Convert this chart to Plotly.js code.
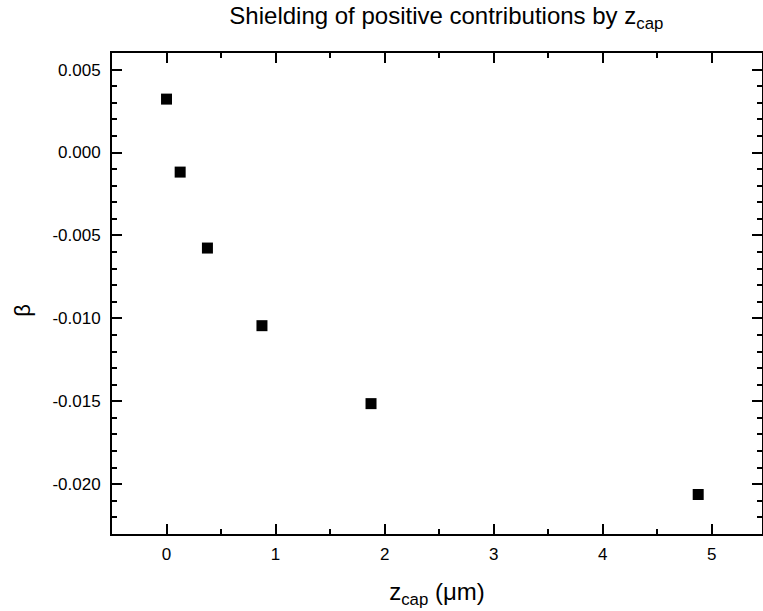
<!DOCTYPE html>
<html>
<head>
<meta charset="utf-8">
<script src="https://cdn.plot.ly/plotly-3.0.1.min.js"></script>
<style>html,body{margin:0;padding:0;background:#fff;}#chart{width:763px;height:611px;}</style>
</head>
<body>
<div id="chart"></div>
<script>
const zcap = [0, 0.125, 0.375, 0.875, 1.875, 4.875];
const beta = [0.00322, -0.00118, -0.00576, -0.01044, -0.01514, -0.02062];
const chartTitle = 'Shielding of positive contributions by z<sub>cap</sub>';
const xTitle = 'z<sub>cap</sub> (μm)';
const yTitle = 'β';

const font = 'Liberation Sans, Arial, sans-serif';
const axisCommon = {
  showgrid: false, zeroline: false,
  showline: true, linecolor: '#000', linewidth: 2,
  mirror: 'allticks',
  ticks: 'inside', ticklen: 10, tickwidth: 2, tickcolor: '#000',
  tickfont: {family: font, size: 17, color: '#000'}
};
const data = [{
  x: zcap, y: beta, type: 'scatter', mode: 'markers',
  marker: {symbol: 'square', size: 11, color: '#000'}
}];
const layout = {
  width: 763, height: 611,
  margin: {l: 112, r: 1, t: 53, b: 77},
  paper_bgcolor: '#fff', plot_bgcolor: '#fff',
  showlegend: false,
  title: {text: chartTitle, font: {family: font, size: 24, color: '#000'}, x: 0.585, xanchor: 'center', y: 0.988, yanchor: 'top'},
  xaxis: Object.assign({}, axisCommon, {
    range: [-0.5, 5.46], tickvals: [0,1,2,3,4,5], ticktext: ['0','1','2','3','4','5'],
    ticklabelstandoff: 4,
    minor: {dtick: 0.5, tick0: 0, ticks: 'inside', ticklen: 5, tickwidth: 2, tickcolor: '#000'},
    title: {text: xTitle, font: {family: font, size: 24, color: '#000'}, standoff: 20}
  }),
  yaxis: Object.assign({}, axisCommon, {
    range: [-0.023, 0.006], tickvals: [0.005, 0, -0.005, -0.01, -0.015, -0.02],
    ticktext: ['0.005', '0.000', '-0.005', '-0.010', '-0.015', '-0.020'],
    ticklabelstandoff: 6,
    minor: {dtick: 0.001, tick0: 0, ticks: 'inside', ticklen: 5, tickwidth: 2, tickcolor: '#000'}
  }),
  annotations: [{
    text: yTitle, xref: 'paper', yref: 'paper', x: -0.137, y: 0.466,
    xanchor: 'center', yanchor: 'middle', textangle: -90, showarrow: false,
    font: {family: font, size: 22, color: '#000'}
  }]
};
Plotly.newPlot('chart', data, layout, {displayModeBar: false, staticPlot: true});
</script>
</body>
</html>
